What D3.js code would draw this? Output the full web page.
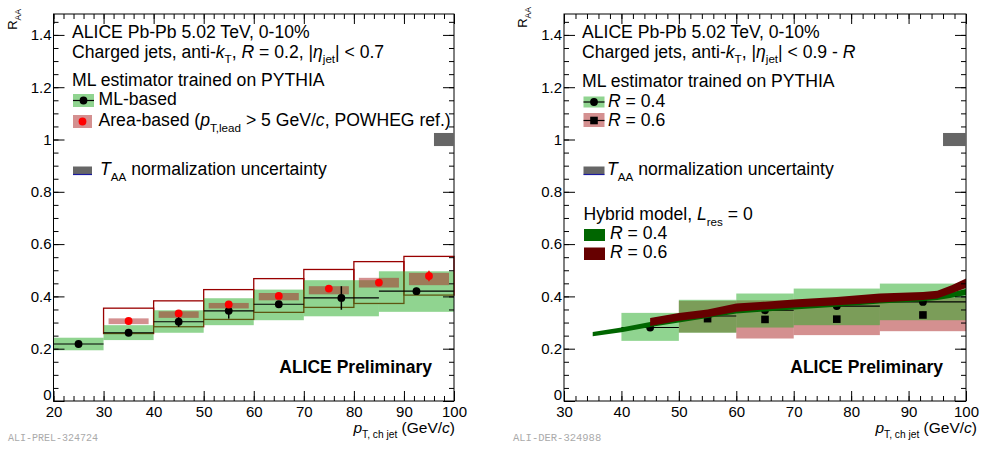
<!DOCTYPE html>
<html><head><meta charset="utf-8">
<script src="https://cdn.jsdelivr.net/npm/d3@7"></script>
<style>
body{margin:0;background:#fff;}
svg{display:block;font-family:"Liberation Sans",Arial,Helvetica,sans-serif;}
text{white-space:pre;}
</style></head><body>
<svg id="c" width="987" height="450"></svg>
<script>
// ---------------- data ----------------
const leftXTicks = [20,30,40,50,60,70,80,90,100];
const rightXTicks = [30,40,50,60,70,80,90,100];
const yTicks = [0,0.2,0.4,0.6,0.8,1,1.2,1.4];
const yTickLabels = ["0","0.2","0.4","0.6","0.8","1","1.2","1.4"];

// left panel: ML-based, R = 0.2
const mlX     = [25,35,45,55,65,77.5,92.5];
const mlBinLo = [20,30,40,50,60,70,85];
const mlBinHi = [30,40,50,60,70,85,100];
const mlVal   = [0.218,0.261,0.303,0.345,0.370,0.394,0.420];
const mlStat  = [0.005,0.006,0.020,0.030,0.008,0.045,0.013];
const mlSysLo = [0.194,0.233,0.261,0.290,0.309,0.324,0.341];
const mlSysHi = [0.242,0.290,0.347,0.393,0.426,0.462,0.496];

// left panel: area-based
const areaX     = [35,45,55,65,75,85,95];
const areaBinLo = [30,40,50,60,70,80,90];
const areaBinHi = [40,50,60,70,80,90,100];
const areaVal   = [0.306,0.335,0.369,0.402,0.430,0.453,0.478];
const areaStat  = [0.005,0.006,0.012,0.008,0.008,0.010,0.020];
const areaSysXLo = [31,41,51,61,71,81,91];
const areaSysXHi = [39,49,59,69,79,89,99];
const areaSysLo = [0.294,0.318,0.354,0.385,0.408,0.434,0.443];
const areaSysHi = [0.316,0.343,0.375,0.413,0.439,0.471,0.490];
const areaOutLo = [0.258,0.284,0.312,0.339,0.358,0.373,0.405];
const areaOutHi = [0.355,0.383,0.426,0.468,0.503,0.533,0.553];

// T_AA normalization box
const taaX = [96,100];
const taaY = [0.975,1.025];

// right panel: ML-based R = 0.4
const r4X     = [45,55,65,77.5,92.5];
const r4BinLo = [40,50,60,70,85];
const r4BinHi = [50,60,70,85,100];
const r4Val   = [0.281,0.325,0.347,0.363,0.379];
const r4Stat  = [0.006,0.008,0.008,0.008,0.010];
const r4SysLo = [0.230,0.261,0.281,0.290,0.309];
const r4SysHi = [0.337,0.387,0.411,0.430,0.449];
// right panel: ML-based R = 0.6
const r6X     = [55,65,77.5,92.5];
const r6BinLo = [50,60,70,85];
const r6BinHi = [60,70,85,100];
const r6Val   = [0.315,0.312,0.313,0.329];
const r6Stat  = [0.008,0.010,0.010,0.012];
const r6SysLo = [0.262,0.239,0.252,0.267];
const r6SysHi = [0.383,0.385,0.374,0.395];
// hybrid model bands
const hyb4X  = [35,40,45,50,60,70,77.5,85,92.5,95,97.5,100];
const hyb4Lo = [0.248,0.263,0.283,0.300,0.335,0.350,0.360,0.373,0.381,0.386,0.395,0.405];
const hyb4Hi = [0.264,0.281,0.302,0.320,0.356,0.370,0.381,0.394,0.402,0.407,0.416,0.428];
const hyb6X  = [45,50,55,60,65,70,77.5,85,92.5,95,97.5,100];
const hyb6Lo = [0.287,0.307,0.320,0.341,0.350,0.358,0.366,0.377,0.386,0.392,0.412,0.432];
const hyb6Hi = [0.317,0.337,0.350,0.373,0.380,0.388,0.398,0.411,0.417,0.422,0.443,0.468];

// ---------------- drawing ----------------
const svg = d3.select("#c");
const GREEN = "rgba(34,170,34,0.5)";
const PINK  = "rgba(170,34,34,0.5)";
const OUTRED = "#990000";
const HYB4 = "#006600", HYB6 = "#660000";
const FS = 17.6;

function rich(parent, x, y, segs, size, opts) {
  opts = opts || {};
  const t = parent.append("text").attr("x", x).attr("y", y)
    .attr("font-size", size).attr("text-anchor", opts.anchor || "start")
    .attr("fill", opts.fill || "#000");
  if (opts.bold) t.attr("font-weight", "bold");
  if (opts.transform) t.attr("transform", opts.transform);
  let cur = 0;
  segs.forEach(s => {
    if (typeof s === "string") s = {t: s};
    const shift = s.sub ? size * 0.32 : 0;
    const ts = t.append("tspan").attr("dy", shift - cur).text(s.t);
    cur = shift;
    if (s.sub) ts.attr("font-size", size * 0.66);
    if (s.i) ts.attr("font-style", "italic");
  });
  return t;
}

function panel(cfg) {
  const g = svg.append("g");
  const xs = d3.scaleLinear().domain(cfg.xDomain).range(cfg.xRange);
  const ys = d3.scaleLinear().domain([0, 1.48]).range([401, 14]);
  cfg.draw(g, xs, ys);

  // frame
  g.append("rect").attr("x", cfg.xRange[0]).attr("y", 14)
    .attr("width", cfg.xRange[1] - cfg.xRange[0]).attr("height", 387)
    .attr("fill", "none").attr("stroke", "#000").attr("stroke-width", 1);

  const xMinor = d3.range(cfg.xDomain[0], cfg.xDomain[1] + 0.01, 2);
  const yMinor = d3.range(0, 1.48, 0.05);
  g.append("g").attr("transform", "translate(0,401)")
    .call(d3.axisBottom(xs).tickValues(cfg.xTicks).tickSize(-10).tickPadding(5).tickFormat(d3.format("d")));
  g.append("g").attr("transform", "translate(0,401)")
    .call(d3.axisBottom(xs).tickValues(xMinor).tickSize(-5).tickFormat(""));
  g.append("g").attr("transform", "translate(0,14)")
    .call(d3.axisTop(xs).tickValues(cfg.xTicks).tickSize(-10).tickFormat(""));
  g.append("g").attr("transform", "translate(0,14)")
    .call(d3.axisTop(xs).tickValues(xMinor).tickSize(-5).tickFormat(""));
  const axL = g.append("g").attr("transform", `translate(${cfg.xRange[0]},0)`)
    .call(d3.axisLeft(ys).tickValues(yTicks).tickSize(-11).tickPadding(2).tickFormat((d,i) => yTickLabels[i]));
  axL.selectAll(".tick text").filter(d => d === 0).attr("dy", "-0.12em");
  g.append("g").attr("transform", `translate(${cfg.xRange[0]},0)`)
    .call(d3.axisLeft(ys).tickValues(yMinor).tickSize(-5).tickFormat(""));
  g.append("g").attr("transform", `translate(${cfg.xRange[1]},0)`)
    .call(d3.axisRight(ys).tickValues(yTicks).tickSize(-11).tickFormat(""));
  g.append("g").attr("transform", `translate(${cfg.xRange[1]},0)`)
    .call(d3.axisRight(ys).tickValues(yMinor).tickSize(-5).tickFormat(""));
  g.selectAll(".domain").remove();
  g.selectAll(".tick line").attr("stroke", "#000");
  g.selectAll(".tick text").attr("font-size", 15)
    .attr("font-family", '"Liberation Sans",Arial,sans-serif').attr("fill", "#000");

  // TAA box
  g.append("rect").attr("x", xs(taaX[0])).attr("width", xs(taaX[1]) - xs(taaX[0]))
    .attr("y", ys(taaY[1])).attr("height", ys(taaY[0]) - ys(taaY[1])).attr("fill", "#666");

  // axis titles
  rich(g, cfg.xTitleEnd, 433, [{t:"p", i:1}, {t:"T, ch jet", sub:1}, " (GeV/", {t:"c", i:1}, ")"], 15.5, {anchor:"end"});
  rich(g, 0, 0, [{t:"R", i:0}, {t:"AA", sub:1}], 13,
    {anchor:"end", transform:`translate(${cfg.yTitleX},${cfg.yTitleY}) rotate(-90)`});

  // watermark
  g.append("text").attr("x", cfg.wmX).attr("y", 441).attr("font-size", cfg.wmSize)
    .attr("font-family", '"Liberation Mono","DejaVu Sans Mono",monospace')
    .attr("fill", "#aaa").text(cfg.wm);

  // ALICE Preliminary
  g.append("text").attr("x", cfg.prelimEnd).attr("y", 373).attr("text-anchor", "end")
    .attr("font-size", 17.5).attr("font-weight", "bold").text("ALICE Preliminary");
  cfg.legend(g);
  return g;
}

function boxes(g, xs, ys, xlo, xhi, lo, hi, fill) {
  g.append("g").selectAll("rect").data(lo).join("rect")
    .attr("x", (d,i) => xs(xlo[i])).attr("width", (d,i) => xs(xhi[i]) - xs(xlo[i]))
    .attr("y", (d,i) => ys(hi[i])).attr("height", (d,i) => ys(lo[i]) - ys(hi[i]))
    .attr("fill", fill);
}
function points(g, xs, ys, x, v, st, opts) {
  const gg = g.append("g");
  if (opts.xlo) {
    gg.selectAll("line.h").data(v).join("line").attr("class","h")
      .attr("x1", (d,i) => xs(opts.xlo[i])).attr("x2", (d,i) => xs(opts.xhi[i]))
      .attr("y1", d => ys(d)).attr("y2", d => ys(d))
      .attr("stroke", "#000").attr("stroke-width", 1.2);
  }
  gg.selectAll("line.v").data(v).join("line").attr("class","v")
    .attr("x1", (d,i) => xs(x[i])).attr("x2", (d,i) => xs(x[i]))
    .attr("y1", (d,i) => ys(d - st[i])).attr("y2", (d,i) => ys(d + st[i]))
    .attr("stroke", opts.color).attr("stroke-width", 1.5);
  if (opts.square) {
    gg.selectAll("rect").data(v).join("rect")
      .attr("x", (d,i) => xs(x[i]) - 3.8).attr("y", d => ys(d) - 3.8)
      .attr("width", 7.6).attr("height", 7.6).attr("fill", opts.color);
  } else {
    gg.selectAll("circle").data(v).join("circle")
      .attr("cx", (d,i) => xs(x[i])).attr("cy", d => ys(d)).attr("r", 3.9).attr("fill", opts.color);
  }
}
function band(g, xs, ys, x, lo, hi, color) {
  const area = d3.area().x((d,i) => xs(x[i])).y0((d,i) => ys(lo[i])).y1((d,i) => ys(hi[i]));
  g.append("path").datum(x).attr("d", area).attr("fill", color);
}

// ---- left panel ----
panel({
  xDomain: [20, 100], xRange: [53.5, 454], xTicks: leftXTicks,
  xTitleEnd: 455, yTitleX: 16.5, yTitleY: 9,
  wm: "ALI-PREL-324724", wmX: 8, wmSize: 10, prelimEnd: 432,
  draw: (g, xs, ys) => {
    // outline boxes
    g.append("g").selectAll("rect").data(areaVal).join("rect")
      .attr("x", (d,i) => xs(areaBinLo[i])).attr("width", (d,i) => xs(areaBinHi[i]) - xs(areaBinLo[i]))
      .attr("y", (d,i) => ys(areaOutHi[i])).attr("height", (d,i) => ys(areaOutLo[i]) - ys(areaOutHi[i]))
      .attr("fill", "none").attr("stroke", OUTRED).attr("stroke-width", 1.3);
    boxes(g, xs, ys, mlBinLo, mlBinHi, mlSysLo, mlSysHi, GREEN);
    boxes(g, xs, ys, areaSysXLo, areaSysXHi, areaSysLo, areaSysHi, PINK);
    points(g, xs, ys, mlX, mlVal, mlStat, {color:"#000", xlo: mlBinLo, xhi: mlBinHi});
    points(g, xs, ys, areaX, areaVal, areaStat, {color:"#ff0000"});
  },
  legend: g => {
    rich(g, 72, 37.5, ["ALICE Pb-Pb 5.02 TeV, 0-10%"], FS);
    rich(g, 72, 57.5, ["Charged jets, anti-", {t:"k", i:1}, {t:"T", sub:1}, ", ", {t:"R", i:1}, " = 0.2, |", {t:"η", i:1}, {t:"jet", sub:1}, "| < 0.7"], FS);
    rich(g, 72, 86, ["ML estimator trained on PYTHIA"], FS);
    g.append("rect").attr("x", 73).attr("y", 94).attr("width", 21).attr("height", 13).attr("fill", GREEN);
    g.append("line").attr("x1", 73).attr("x2", 94).attr("y1", 100.5).attr("y2", 100.5).attr("stroke", "#000").attr("stroke-width", 1.2);
    g.append("circle").attr("cx", 83.5).attr("cy", 100.5).attr("r", 3.9).attr("fill", "#000");
    rich(g, 98.5, 104.5, ["ML-based"], FS);
    g.append("rect").attr("x", 73).attr("y", 115).attr("width", 19).attr("height", 13).attr("fill", PINK);
    g.append("circle").attr("cx", 82.5).attr("cy", 121.5).attr("r", 3.9).attr("fill", "#ff0000");
    rich(g, 98.5, 126, ["Area-based (", {t:"p", i:1}, {t:"T,lead", sub:1}, " > 5 GeV/", {t:"c", i:1}, ", POWHEG ref.)"], FS);
    g.append("rect").attr("x", 73).attr("y", 166.5).attr("width", 19).attr("height", 8).attr("fill", "#666");
    g.append("line").attr("x1", 73).attr("x2", 92).attr("y1", 174.5).attr("y2", 174.5).attr("stroke", "#1a1aa0").attr("stroke-width", 1.2);
    rich(g, 100, 175, [{t:"T", i:1}, {t:"AA", sub:1}, " normalization uncertainty"], FS);
  }
});

// ---- right panel ----
panel({
  xDomain: [30, 100], xRange: [564, 966], xTicks: rightXTicks,
  xTitleEnd: 977, yTitleX: 526.5, yTitleY: 7,
  wm: "ALI-DER-324988", wmX: 513, wmSize: 10.5, prelimEnd: 943,
  draw: (g, xs, ys) => {
    boxes(g, xs, ys, r6BinLo, r6BinHi, r6SysLo, r6SysHi, PINK);
    boxes(g, xs, ys, r4BinLo, r4BinHi, r4SysLo, r4SysHi, GREEN);
    points(g, xs, ys, r4X, r4Val, r4Stat, {color:"#000", xlo: r4BinLo, xhi: r4BinHi});
    points(g, xs, ys, r6X, r6Val, r6Stat, {color:"#000", square:true});
    band(g, xs, ys, hyb4X, hyb4Lo, hyb4Hi, HYB4);
    band(g, xs, ys, hyb6X, hyb6Lo, hyb6Hi, HYB6);
  },
  legend: g => {
    rich(g, 582, 37.5, ["ALICE Pb-Pb 5.02 TeV, 0-10%"], FS);
    rich(g, 582, 57.5, ["Charged jets, anti-", {t:"k", i:1}, {t:"T", sub:1}, ", |", {t:"η", i:1}, {t:"jet", sub:1}, "| < 0.9 - ", {t:"R", i:1}], FS);
    rich(g, 582, 86.5, ["ML estimator trained on PYTHIA"], FS);
    g.append("rect").attr("x", 583.5).attr("y", 96.5).attr("width", 21).attr("height", 11).attr("fill", GREEN);
    g.append("line").attr("x1", 583.5).attr("x2", 604.5).attr("y1", 102).attr("y2", 102).attr("stroke", "#000").attr("stroke-width", 1.2);
    g.append("circle").attr("cx", 594).attr("cy", 102).attr("r", 3.9).attr("fill", "#000");
    rich(g, 608, 107, [{t:"R", i:1}, " = 0.4"], FS);
    g.append("rect").attr("x", 583.5).attr("y", 113).attr("width", 21).attr("height", 14).attr("fill", PINK);
    g.append("line").attr("x1", 583.5).attr("x2", 604.5).attr("y1", 120.5).attr("y2", 120.5).attr("stroke", "#000").attr("stroke-width", 1.2);
    g.append("rect").attr("x", 590.2).attr("y", 116.7).attr("width", 7.6).attr("height", 7.6).attr("fill", "#000");
    rich(g, 608, 126, [{t:"R", i:1}, " = 0.6"], FS);
    g.append("rect").attr("x", 583.5).attr("y", 166.5).attr("width", 21).attr("height", 8).attr("fill", "#666");
    g.append("line").attr("x1", 583.5).attr("x2", 604.5).attr("y1", 174.5).attr("y2", 174.5).attr("stroke", "#1a1aa0").attr("stroke-width", 1.2);
    rich(g, 607, 175, [{t:"T", i:1}, {t:"AA", sub:1}, " normalization uncertainty"], FS);
    rich(g, 583.5, 220, ["Hybrid model, ", {t:"L", i:1}, {t:"res", sub:1}, " = 0"], FS);
    g.append("rect").attr("x", 584).attr("y", 229).attr("width", 21).attr("height", 12).attr("fill", HYB4);
    rich(g, 610, 238.5, [{t:"R", i:1}, " = 0.4"], FS);
    g.append("rect").attr("x", 584).attr("y", 247.5).attr("width", 21).attr("height", 12.5).attr("fill", HYB6);
    rich(g, 610, 257.5, [{t:"R", i:1}, " = 0.6"], FS);
  }
});
</script>
</body></html>
